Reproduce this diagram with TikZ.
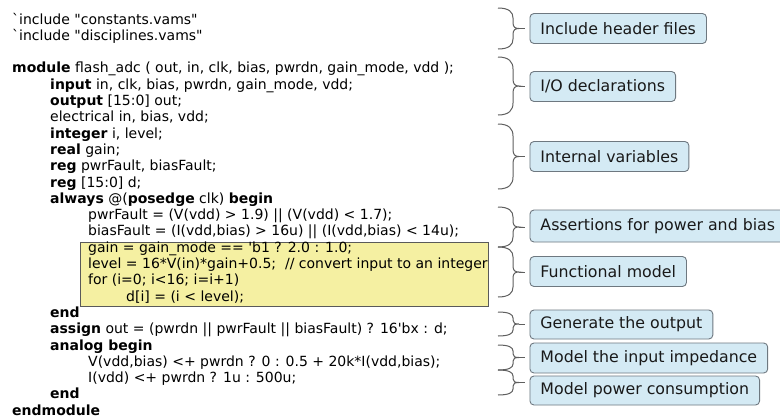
\documentclass[tikz,border=0pt]{standalone}
\usepackage{fontspec}
\newfontfamily\codefont{DejaVu Sans}
\newfontfamily\labelfont{DejaVu Sans}
\definecolor{boxfill}{RGB}{212,234,244}
\definecolor{boxborder}{RGB}{110,120,128}
\definecolor{bracecol}{RGB}{95,95,95}
\definecolor{yfill}{RGB}{245,240,162}
\definecolor{yborder}{RGB}{90,90,90}
\definecolor{textdark}{RGB}{25,25,25}
\newcommand{\curlyb}[4]{%
  \draw[brc] (498,#1) .. controls (509,#1) and (513,{#1+0.4*#3}) .. (513,{#1+#3})
    -- (513,{(#1+#2)/2-0.6*#3}) .. controls (513,{(#1+#2)/2-0.15*#3}) and (515,{(#1+#2)/2}) .. (519,{(#1+#2)/2})
    .. controls (515,{(#1+#2)/2}) and (513,{(#1+#2)/2+0.15*#3}) .. (513,{(#1+#2)/2+0.6*#3})
    -- (513,{#2-#3}) .. controls (513,{#2-0.4*#3}) and (509,#2) .. (498,#2);
  \coordinate (#4) at (519,{(#1+#2)/2});
}
\begin{document}
\begin{tikzpicture}[x=1pt,y=-1pt,
  code/.style={anchor=base west, inner sep=0pt, font=\codefont\fontsize{14}{16}\selectfont, text=black},
  lbl/.style={draw=boxborder, fill=boxfill, rounded corners=4pt, line width=0.9pt, anchor=west,
    font=\labelfont\fontsize{15.8}{18}\selectfont, inner xsep=10.5pt, inner ysep=0pt, minimum height=30pt, text=textdark},
  brc/.style={draw=bracecol, line width=1pt},
  tick/.style={draw=bracecol, line width=1pt, shorten >=5pt},
  ybox/.style={fill=yfill, draw=yborder, line width=0.9pt}]
\useasboundingbox (0,0) rectangle (780,418);
\clip (0,0) rectangle (780,418);
\fill[white] (0,0) rectangle (780,418);

% highlighted functional block
\path[ybox] (80,242) rectangle (488,306);

% code lines
\def\lh{16.3}
\node[code] (c0) at (12,24) {`include "constants.vams"};
\node[code] (c1) at (12,{24+1*\lh}) {`include "disciplines.vams"};
\node[code] (c3) at (12,{24+3*\lh}) {\textbf{module} flash\_adc ( out, in, clk, bias, pwrdn, gain\_mode, vdd );};
\node[code] (c4) at (50,{24+4*\lh}) {\textbf{input} in, clk, bias, pwrdn, gain\_mode, vdd;};
\node[code] (c5) at (50,{24+5*\lh}) {\textbf{output} [15:0] out;};
\node[code] (c6) at (50,{24+6*\lh}) {electrical in, bias, vdd;};
\node[code] (c7) at (50,{24+7*\lh}) {\textbf{integer} i, level;};
\node[code] (c8) at (50,{24+8*\lh}) {\textbf{real} gain;};
\node[code] (c9) at (50,{24+9*\lh}) {\textbf{reg} pwrFault, biasFault;};
\node[code] (c10) at (50,{24+10*\lh}) {\textbf{reg} [15:0] d;};
\node[code] (c11) at (50,{24+11*\lh}) {\textbf{always} @(\textbf{posedge} clk) \textbf{begin}};
\node[code] (c12) at (88,{24+12*\lh}) {pwrFault = (V(vdd) > 1.9) || (V(vdd) < 1.7);};
\node[code] (c13) at (88,{24+13*\lh}) {biasFault = (I(vdd,bias) > 16u) || (I(vdd,bias) < 14u);};
\node[code] (c14) at (88,{24+14*\lh}) {gain = gain\_mode == 'b1 ? 2.0 : 1.0;};
\node[code] (c15) at (88,{24+15*\lh}) {level = 16*V(in)*gain+0.5;\ \ // convert input to an integer};
\node[code] (c16) at (88,{24+16*\lh}) {for (i=0; i<16; i=i+1)};
\node[code] (c17) at (126,{24+17*\lh}) {d[i] = (i < level);};
\node[code] (c18) at (50,{24+18*\lh}) {\textbf{end}};
\node[code] (c19) at (50,{24+19*\lh}) {\textbf{assign} out = (pwrdn || pwrFault || biasFault) ? 16'bx : d;};
\node[code] (c20) at (50,{24+20*\lh}) {\textbf{analog begin}};
\node[code] (c21) at (88,{24+21*\lh}) {V(vdd,bias) <+ pwrdn ? 0 : 0.5 + 20k*I(vdd,bias);};
\node[code] (c22) at (88,{24+22*\lh}) {I(vdd) <+ pwrdn ? 1u : 500u;};
\node[code] (c23) at (50,{24+23*\lh}) {\textbf{end}};
\node[code] (c24) at (12,{24+24*\lh}) {\textbf{endmodule}};

% labels
\node[lbl] (l1) at (529.5,28.5) {Include header files};
\node[lbl] (l2) at (529.5,86.5) {I/O declarations};
\node[lbl] (l3) at (529.5,156.5) {Internal variables};
\node[lbl, minimum height=32pt] (l4) at (529.5,226) {Assertions for power and bias};
\node[lbl] (l5) at (529.5,271.5) {Functional model};
\node[lbl, minimum height=29pt] (l6) at (529.5,324.5) {Generate the output};
\node[lbl] (l7) at (529.5,358) {Model the input impedance};
\node[lbl, minimum height=29pt] (l8) at (529.5,390.5) {Model power consumption};

% braces
\curlyb{8}{49}{10}{b1}
\curlyb{57}{115}{12}{b2}
\curlyb{124}{189}{12}{b3}
\curlyb{207}{247}{10}{b4}
\curlyb{247}{297}{10}{b5}
\curlyb{312}{336}{6}{b6}
\curlyb{345}{370}{6}{b7}
\curlyb{370}{395}{6}{b8}

\draw[tick] (b1) -- (b1 -| l1.west);
\draw[tick] (b2) -- (b2 -| l2.west);
\draw[tick] (b3) -- (b3 -| l3.west);
\draw[tick] (b4) -- (b4 -| l4.west);
\draw[tick] (b5) -- (b5 -| l5.west);
\draw[tick] (b6) -- (b6 -| l6.west);
\draw[tick] (b7) -- (b7 -| l7.west);
\draw[tick] (b8) -- (b8 -| l8.west);
\end{tikzpicture}
\end{document}
